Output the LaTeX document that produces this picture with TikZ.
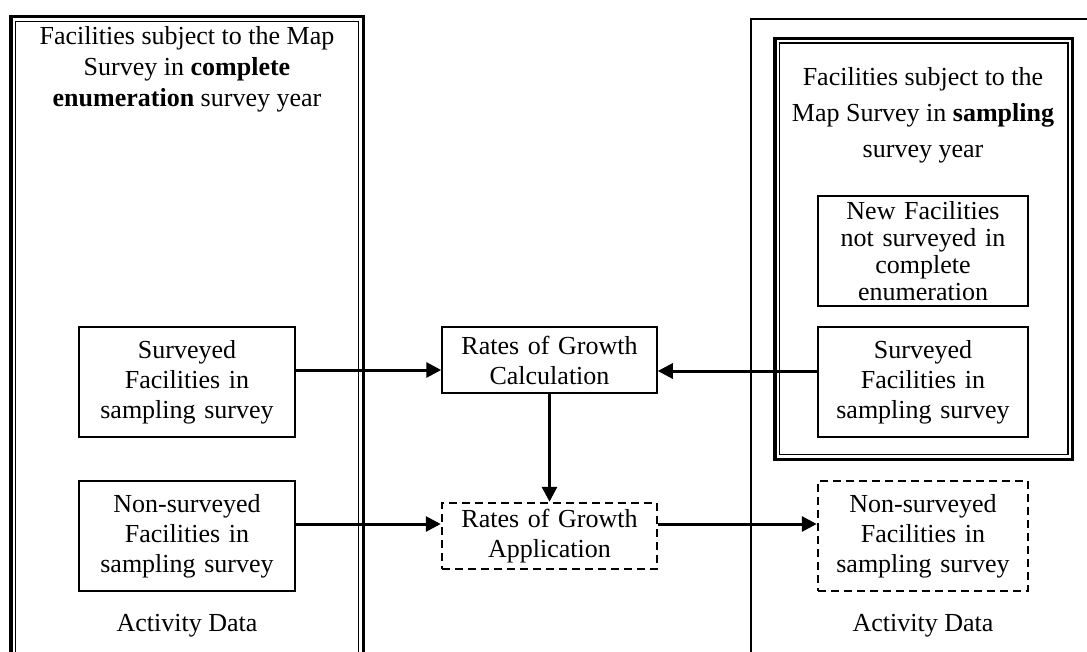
\documentclass[tikz,border=0pt]{standalone}
\usepackage{fontspec}
\setmainfont{Liberation Serif}
\usetikzlibrary{arrows.meta,positioning,calc}
\tikzset{
    x=1pt, y=-1pt,
    box/.style={rectangle, draw, line width=1.5pt, minimum width=216pt, minimum height=110pt,
        text width=206pt, align=center, inner sep=0pt, font=\fontsize{26}{30}\selectfont},
    dbox/.style={box, dash pattern=on 8pt off 5pt, line width=2.5pt},
    lbl/.style={align=center, inner sep=0pt, font=\fontsize{26}{31}\selectfont},
    flow/.style={-{Triangle[length=15pt,width=15pt]}, line width=3pt},
    frameout/.style={line width=3.5pt},
    framein/.style={line width=1.5pt}
}

\begin{document}
\begin{tikzpicture}
    \useasboundingbox (0,0) rectangle (1087,651);
    \clip (0,0) rectangle (1087,651);

    % left frame (open at the bottom)
    \draw[frameout] (11,680) |- (363.5,16.5) -- (363.5,680);
    \draw[framein] (15.5,680) |- (358.5,21.5) -- (358.5,680);
    % right frame
    \draw[framein] (751,680) |- (1100,19);
    \draw[frameout] (775,38.5) rectangle (1072.5,459.5);
    \draw[framein] (779.5,43) rectangle (1068,454.5);

    \node[lbl] (ltitle) at (187,69) {Facilities subject to the Map\\Survey in \textbf{complete}\\\textbf{enumeration} survey year};
    \node[lbl, font=\fontsize{26}{36}\selectfont] (rtitle) at (923,115) {Facilities subject to the\\Map Survey in \textbf{sampling}\\survey year};

    \node[box] (lsurv) at (187,382) {Surveyed\\Facilities in\\sampling survey};
    \node[box] (lnon) at (187,536) {Non-surveyed\\Facilities in\\sampling survey};
    \node[box, minimum width=215pt, minimum height=66pt] (calc) at (549.5,360) {Rates of Growth\\Calculation};
    \node[dbox, minimum width=215pt, minimum height=66pt] (app) at (549.5,536) {Rates of Growth\\Application};
    \node[box, minimum width=210pt, font=\fontsize{26}{27}\selectfont] (rnew) at (923,251) {New Facilities\\not surveyed in\\complete\\enumeration};
    \node[box, minimum width=210pt] (rsurv) at (923,382) {Surveyed\\Facilities in\\sampling survey};
    \node[dbox, minimum width=210pt] (rnon) at (923,536) {Non-surveyed\\Facilities in\\sampling survey};

    \node[lbl] (ldata) at (187,626) {Activity Data};
    \node[lbl] (rdata) at (923,626) {Activity Data};

    \path ([yshift=12pt]lsurv.east) edge[flow] ([yshift=12pt]lsurv.east -| calc.west);
    \path ([yshift=11pt]rsurv.west) edge[flow] ([yshift=11pt]rsurv.west -| calc.east);
    \path (calc.south) edge[flow] (app.north);
    \path ([yshift=12pt]lnon.east) edge[flow] ([yshift=12pt]lnon.east -| app.west);
    \path ([yshift=12pt]app.east) edge[flow] ([yshift=12pt]app.east -| rnon.west);
\end{tikzpicture}
\end{document}
